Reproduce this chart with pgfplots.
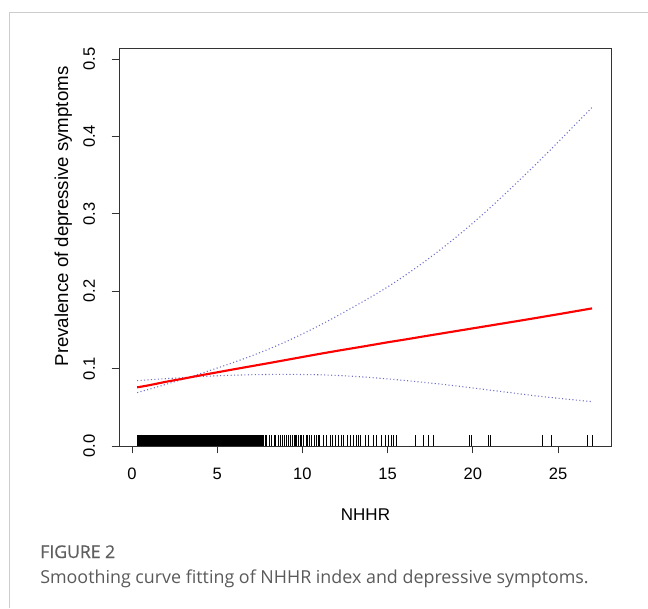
\documentclass[border=0pt]{standalone}
\usepackage{fontspec}
\setmainfont{Liberation Sans}
\newfontfamily\capfont{Open Sans}
\newfontfamily\figfont[FakeBold=0.6]{Open Sans}
\usepackage{pgfplots}
\pgfplotsset{compat=1.18}
\definecolor{cigray}{RGB}{110,110,200}
\definecolor{framegray}{RGB}{205,205,205}
\definecolor{figgray}{RGB}{95,95,95}
\definecolor{capgray}{RGB}{90,90,90}
\begin{document}
\begin{tikzpicture}
\path[use as bounding box] (0,0) rectangle (486pt,456pt);
\draw[framegray, line width=0.75pt] (6.75pt,0) -- (6.75pt,446.25pt) -- (486pt,446.25pt);
\begin{axis}[
  at={(89.25pt,121.5pt)}, anchor=south west,
  scale only axis, width=369pt, height=298.5pt,
  xmin=-0.763, xmax=28.11, ymin=0, ymax=0.5142,
  axis line style={black!80, line width=0.7pt},
  tick style={black!80, line width=0.7pt},
  tick align=outside, major tick length=5.5pt,
  xtick pos=lower, ytick pos=left,
  xtick={0,5,10,15,20,25}, xticklabels={0,5,10,15,20,25},
  ytick={0,0.1,0.2,0.3,0.4,0.5}, yticklabels={0.0,0.1,0.2,0.3,0.4,0.5},
  xticklabel style={font=\fontsize{12.4}{14}\selectfont, yshift=-7.5pt},
  yticklabel style={font=\fontsize{12.4}{14}\selectfont, xshift=-9pt, rotate=90, anchor=south},
  xlabel={NHHR}, ylabel={Prevalence of depressive symptoms},
  xlabel style={font=\fontsize{12.75}{15}\selectfont, at={(axis description cs:0.501,-0.1726)}, anchor=center},
  ylabel style={font=\fontsize{14}{16}\selectfont, at={(axis description cs:-0.1130,0.5766)}, anchor=center, rotate=0},
  clip=false,
]
% rug: solid dense part
\addplot[fill=black, draw=none] coordinates {(0.3,0) (0.3,0.0142) (7.75,0.0142) (7.75,0)} -- cycle;
% rug: individual ticks
\addplot[ycomb, black, line width=0.45pt, no markers] coordinates {
(7.81,0.0142) (7.90,0.0142) (8.06,0.0142) (8.20,0.0142) (8.33,0.0142) (8.43,0.0142)
(8.59,0.0142) (8.72,0.0142) (8.84,0.0142) (8.92,0.0142) (9.04,0.0142) (9.17,0.0142)
(9.27,0.0142) (9.43,0.0142) (9.53,0.0142) (9.58,0.0142) (9.66,0.0142) (9.78,0.0142)
(9.86,0.0142) (9.96,0.0142) (10.05,0.0142) (10.21,0.0142) (10.29,0.0142) (10.40,0.0142)
(10.54,0.0142) (10.68,0.0142) (10.84,0.0142) (10.95,0.0142) (10.99,0.0142) (11.23,0.0142)
(11.42,0.0142) (11.62,0.0142) (11.78,0.0142) (11.93,0.0142) (12.11,0.0142) (12.26,0.0142)
(12.40,0.0142) (12.63,0.0142) (12.83,0.0142) (12.99,0.0142) (13.14,0.0142) (13.28,0.0142)
(13.42,0.0142) (13.67,0.0142) (13.87,0.0142) (14.16,0.0142) (14.36,0.0142) (14.65,0.0142)
(14.84,0.0142) (15.04,0.0142) (15.24,0.0142) (15.35,0.0142) (15.49,0.0142)
(16.6,0.0142) (17.1,0.0142) (17.4,0.0142) (17.7,0.0142) (19.8,0.0142) (19.9,0.0142)
(20.9,0.0142) (21.0,0.0142) (24.1,0.0142) (24.6,0.0142) (26.7,0.0142) (27.0,0.0142)
};
% upper dotted
\addplot[cigray, line width=0.8pt, dash pattern=on 0.8pt off 1.8pt, smooth] coordinates {
(0.3,0.069) (1,0.0733) (2,0.0797) (3,0.0864) (4,0.0934) (5,0.1007) (6,0.1083) (7,0.1163)
(8,0.1250) (9,0.1345) (10,0.1448) (11,0.1558) (12,0.1675) (13,0.1797) (14,0.1922) (15,0.2055)
(16,0.2200) (17,0.2355) (18,0.2520) (19,0.2695) (20,0.2880) (21,0.3075) (22,0.3280) (23,0.3490)
(24,0.3705) (25,0.3925) (26,0.4150) (27,0.4375)
};
% lower dotted
\addplot[cigray, line width=0.8pt, dash pattern=on 0.8pt off 1.8pt, smooth] coordinates {
(0.3,0.0844) (1,0.0856) (2,0.0870) (3,0.0884) (4,0.0897) (5,0.0907) (6,0.0915) (7,0.0921)
(8,0.0924) (9,0.0925) (10,0.0924) (11,0.0920) (12,0.0912) (13,0.0900) (14,0.0885) (15,0.0867)
(16,0.0847) (17,0.0825) (18,0.0802) (19,0.0777) (20,0.0750) (21,0.0722) (22,0.0695) (23,0.0667)
(24,0.0640) (25,0.0617) (26,0.0595) (27,0.0573)
};
% fitted
\addplot[red, line width=1.6pt, smooth] coordinates {
(0.3,0.0758) (1,0.0785) (2,0.0830) (3,0.0870) (4,0.0912) (5,0.0952) (6,0.0992) (7,0.1031)
(8,0.1070) (9,0.1110) (10,0.1150) (11,0.1190) (12,0.1228) (13,0.1265) (14,0.1302) (15,0.1340)
(16,0.1375) (17,0.1412) (18,0.1448) (19,0.1484) (20,0.1520) (21,0.1556) (22,0.1592) (23,0.1628)
(24,0.1665) (25,0.1702) (26,0.1740) (27,0.1778)
};
\end{axis}
\node[anchor=base west, inner sep=0pt, text=figgray, font=\figfont\fontsize{13.2}{15}\selectfont] at (30pt,37.5pt) {FIGURE 2};
\node[anchor=base west, inner sep=0pt, text=capgray, font=\capfont\fontsize{13.4}{16}\selectfont] at (30pt,18.5pt) {Smoothing curve fitting of NHHR index and depressive symptoms.};
\end{tikzpicture}
\end{document}
